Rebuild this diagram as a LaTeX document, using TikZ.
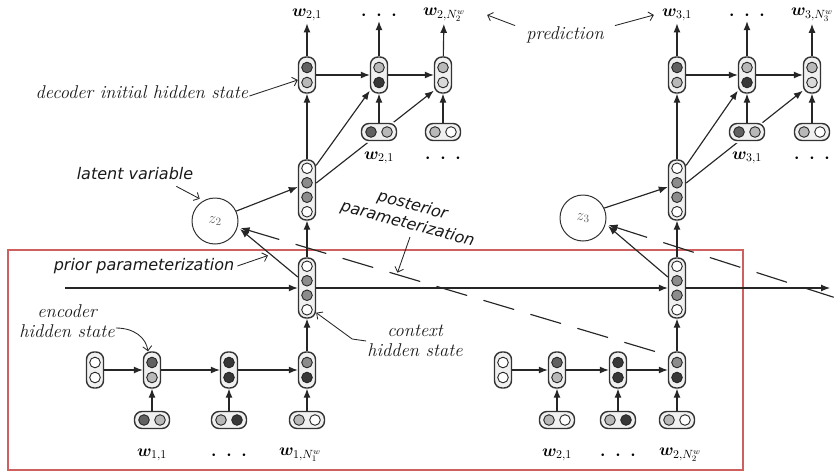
\RequirePackage{fix-cm}
\documentclass[tikz,border=0pt]{standalone}
\usepackage{amsmath, amssymb, bm}
\usepackage{fontspec}
\newfontfamily\annsans{DejaVu Sans}
\usetikzlibrary{arrows.meta, positioning, calc}
\definecolor{boxred}{RGB}{206,96,96}
\colorlet{cA}{black!62}
\colorlet{cB}{black!28}
\colorlet{cC}{black!78}
\colorlet{cD}{black!45}
\colorlet{cE}{black!15}
\tikzset{
  cellbox/.style={rectangle, rounded corners=7.5pt, draw=black!80, line width=1.4pt, fill=black!6, inner sep=0pt, preaction={draw=white, line width=5pt}},
  hole/.style={draw=black!85, line width=0.9pt},
  vcell/.style 2 args={cellbox, minimum width=17pt, minimum height=36pt, path picture={
      \draw[hole, fill=#1] ([yshift=7.5pt]path picture bounding box.center) circle (5.3pt);
      \draw[hole, fill=#2] ([yshift=-7.5pt]path picture bounding box.center) circle (5.3pt);}},
  hcell/.style 2 args={cellbox, minimum width=35pt, minimum height=17pt, path picture={
      \draw[hole, fill=#1] ([xshift=-8pt]path picture bounding box.center) circle (5.3pt);
      \draw[hole, fill=#2] ([xshift=8pt]path picture bounding box.center) circle (5.3pt);}},
  qcell/.style={cellbox, minimum width=17pt, minimum height=60pt, path picture={
      \draw[hole, fill=white] ([yshift=21.75pt]path picture bounding box.center) circle (5.3pt);
      \draw[hole, fill=cD] ([yshift=7.25pt]path picture bounding box.center) circle (5.3pt);
      \draw[hole, fill=cD] ([yshift=-7.25pt]path picture bounding box.center) circle (5.3pt);
      \draw[hole, fill=white] ([yshift=-21.75pt]path picture bounding box.center) circle (5.3pt);}},
  zvar/.style={circle, draw=black!80, line width=1pt, fill=white, minimum size=46pt, inner sep=0pt, font=\fontsize{16}{18}\selectfont, text=black!60},
  arr/.style={-{Latex[length=9pt, width=7pt]}, line width=1.15pt, draw=black!85},
  rarr/.style={{Latex[length=9pt, width=7pt]}-, line width=1.15pt, draw=black!85},
  ann/.style={-{Straight Barb[length=4.5pt, width=9pt]}, line width=0.85pt, draw=black!85},
  post/.style={dash pattern=on 32pt off 17pt},
  lab/.style={font=\fontsize{18.5}{20}\selectfont\itshape, align=center, inner sep=1pt, text=black!90},
  slab/.style={font=\annsans\fontsize{16}{19}\selectfont\itshape, align=center, inner sep=1pt, text=black!90},
  wlab/.style={font=\fontsize{17}{20}\selectfont, inner sep=2pt}
}
\newcommand{\wv}[1]{$\boldsymbol{w}_{#1}$}
\newcommand{\wdots}{$\boldsymbol{\cdot}\hspace{6pt}\boldsymbol{\cdot}\hspace{6pt}\boldsymbol{\cdot}$}

\begin{document}
\begin{tikzpicture}[x=1pt, y=-1pt]
  \useasboundingbox (0,0) rectangle (835,474);
  % Box round the context encoder
  \draw[boxred, line width=2.2pt] (8,250) rectangle (743,470);

  % Context states and latent variables
  \node[qcell] (ctx1) at (307,288) {};
  \node[qcell] (ctx2) at (677,288) {};
  \node[qcell] (dec1) at (307,190) {};
  \node[qcell] (dec2) at (677,190) {};
  \node[zvar] (z2) at (215,221) {$z_2$};
  \node[zvar] (z3) at (583,218) {$z_3$};

  % Decoder of utterance 2
  \node[vcell={cA}{cB}] (t21) at (307,75) {};
  \node[vcell={cB}{cC}] (t22) at (379,75) {};
  \node[vcell={cB}{cE}] (t23) at (443,75) {};
  \draw[arr] ([yshift=7pt]dec1.east) -- ([yshift=3pt]t23.south west);
  \node[hcell={cA}{cB}] (i22) at (379,132) {};
  \node[hcell={cB}{white}] (i23) at (443,132) {};

  % Decoder of utterance 3
  \node[vcell={cA}{cB}] (t31) at (677,75) {};
  \node[vcell={cB}{cC}] (t32) at (747,75) {};
  \node[vcell={cB}{cE}] (t33) at (812,75) {};
  \draw[arr] ([yshift=7pt]dec2.east) -- ([yshift=3pt]t33.south west);
  \node[hcell={cA}{cB}] (i32) at (747,132) {};
  \node[hcell={cB}{white}] (i33) at (812,132) {};

  % Encoder of utterance 1
  \node[vcell={white}{white}] (e10) at (95,370) {};
  \node[vcell={cA}{cB}] (e11) at (152,370) {};
  \node[vcell={cC}{cC}] (e12) at (229,370) {};
  \node[vcell={cD}{cC}] (e13) at (307,370) {};
  \node[hcell={cA}{cB}] (x11) at (152,420) {};
  \node[hcell={cB}{cC}] (x12) at (229,420) {};
  \node[hcell={cB}{white}] (x13) at (307,420) {};

  % Encoder of utterance 2
  \node[vcell={white}{white}] (e20) at (503,370) {};
  \node[vcell={cA}{cB}] (e21) at (557,370) {};
  \node[vcell={cC}{cC}] (e22) at (618,370) {};
  \node[vcell={cD}{cC}] (e23) at (677,370) {};
  \node[hcell={cB}{white}] (x21) at (557,420) {};
  \node[hcell={cB}{cC}] (x22) at (618,420) {};
  \node[hcell={cB}{white}] (x23) at (677,420) {};

  % Word labels
  \node[wlab] (tw21) at (307,15) {\wv{2,1}};
  \node[wlab] (tdots2) at (379,15) {\wdots};
  \node[wlab] (tw2N) at (444,15) {\wv{2,N_2^w}};
  \node[wlab] (tw31) at (677,15) {\wv{3,1}};
  \node[wlab] (tdots3) at (747,15) {\wdots};
  \node[wlab] (tw3N) at (812,15) {\wv{3,N_3^w}};
  \node[wlab] (iw21) at (379,158) {\wv{2,1}};
  \node[wlab] (idots2) at (443,158) {\wdots};
  \node[wlab] (iw31) at (747,158) {\wv{3,1}};
  \node[wlab] (idots3) at (812,158) {\wdots};
  \node[wlab] (bw11) at (152,455) {\wv{1,1}};
  \node[wlab] (bdots1) at (229,455) {\wdots};
  \node[wlab] (bw1N) at (300,455) {\wv{1,N_1^w}};
  \node[wlab] (bw21) at (557,455) {\wv{2,1}};
  \node[wlab] (bdots2) at (618,455) {\wdots};
  \node[wlab] (bw2N) at (680,455) {\wv{2,N_2^w}};

  % Encoder arrows
  \foreach \a/\b in {e10/e11, e11/e12, e12/e13, e20/e21, e21/e22, e22/e23,
                     x11/e11, x12/e12, x13/e13, x21/e21, x22/e22, x23/e23,
                     e13/ctx1, e23/ctx2}
    \draw[arr] (\a) -- (\b);

  % Context chain
  \coordinate (cin) at (65,288);
  \coordinate (cout) at (830,288);
  \draw[arr] (cin) -- (ctx1);
  \draw[arr] (ctx1) -- (ctx2);
  \draw[arr] (ctx2) -- (cout);
  \draw[arr] (ctx1) -- (dec1);
  \draw[arr] (ctx2) -- (dec2);

  % Prior and posterior
  \draw[arr, shorten >=3pt] ([yshift=11pt]ctx1.west) -- coordinate[pos=0.45] (pa) (z2.-15);
  \draw[arr, shorten >=3pt] ([yshift=11pt]ctx2.west) -- (z3.-15);
  \draw[rarr, post, shorten <=3pt] (z2.-15) -- coordinate[pos=0.37] (po) ([yshift=-4pt]e23.north west);
  \coordinate (enc4) at (836,298);
  \draw[rarr, post, shorten <=3pt] (z3.-15) -- (enc4);
  \draw[arr] (z2.25) -- ([yshift=3pt]dec1.west);
  \draw[arr] (z3.25) -- ([yshift=3pt]dec2.west);

  % Decoder arrows
  \foreach \a/\b in {dec1/t21, t21/t22, t22/t23, i22/t22, i23/t23,
                     dec2/t31, t31/t32, t32/t33, i32/t32, i33/t33,
                     t21/tw21, t22/tdots2, t23/tw2N, t31/tw31, t32/tdots3, t33/tw3N}
    \draw[arr] (\a) -- (\b);
  \draw[arr] ([yshift=-6pt]dec1.north east) -- ([yshift=3pt]t22.south west);
  \draw[arr] ([yshift=-6pt]dec2.north east) -- ([yshift=3pt]t32.south west);

  % Annotations
  \node[lab] (dihs) at (142,92) {decoder initial hidden state};
  \draw[ann] ([yshift=-4pt]dihs.east) -- ([yshift=-5pt]t21.west);
  \node[lab] (pred) at (565,35) {prediction};
  \draw[ann] ([xshift=-10pt]pred.north west) -- ([xshift=20pt]tw2N.east);
  \draw[ann] ([xshift=10pt]pred.north east) -- ([xshift=-6pt]tw31.west);
  \node[slab] (lv) at (135,174) {latent variable};
  \draw[ann, shorten >=4pt] ([xshift=-18pt, yshift=-5pt]lv.south east) -- (z2.120);
  \node[slab] (pp) at (144,266) {prior parameterization};
  \draw[ann, shorten >=3pt] ([xshift=2pt]pp.east) -- (pa);
  \node[slab, rotate=-15] (post) at (410,215) {posterior\\parameterization};
  \draw[ann, shorten >=2pt] ([yshift=-22pt]post.center) -- (po);
  \node[lab] (ehs) at (67,321) {encoder\\hidden state};
  \draw[ann] ([yshift=-7pt]ehs.east) .. controls +(18,0) and +(-2,-14) .. ([xshift=-4pt]e11.north);
  \node[lab] (chs) at (415,341) {context\\hidden state};
  \draw[ann] (chs.west) -- +(-14,-2) -- ([yshift=6pt]ctx1.south east);
\end{tikzpicture}
\end{document}
